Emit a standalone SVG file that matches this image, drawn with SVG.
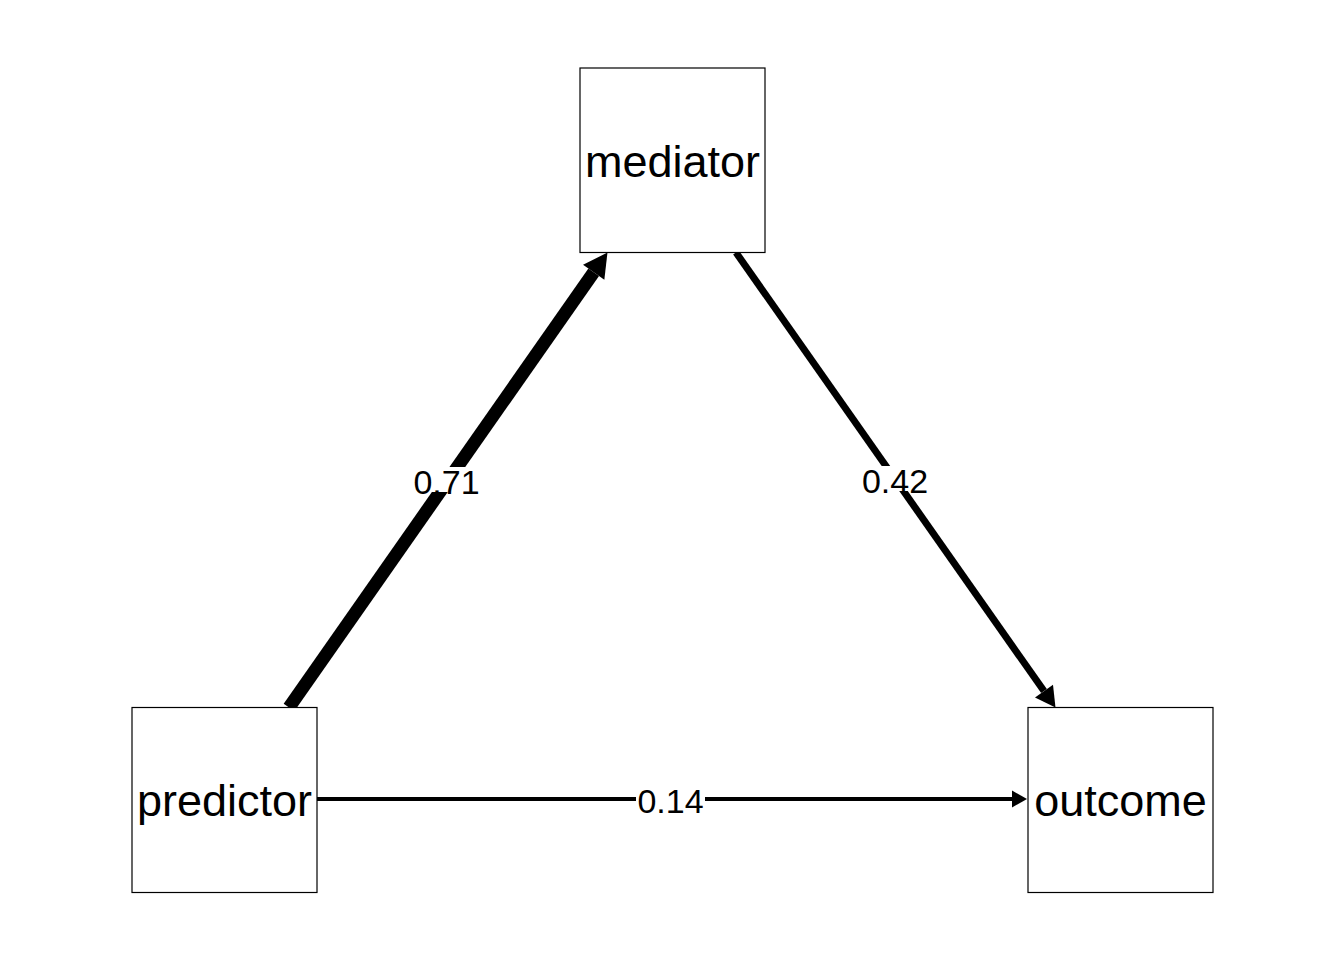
<svg xmlns="http://www.w3.org/2000/svg" width="1344" height="960" viewBox="0 0 1344 960">
<style>
.box{fill:#fff;stroke:#000;stroke-width:1.2}
.nl{font-family:"Liberation Sans",Arial,sans-serif;font-size:45px;fill:#000;text-anchor:middle}
.el{font-family:"Liberation Sans",Arial,sans-serif;font-size:34px;fill:#000;text-anchor:middle}
.edge{stroke:#000;fill:none;stroke-linecap:butt}
.bg{fill:#fff}
</style>
<defs>
<marker id="ah1" markerUnits="userSpaceOnUse" markerWidth="26" markerHeight="28" refX="0" refY="13" orient="auto" overflow="visible"><path d="M0,0 L24,13 L0,26 Z" fill="#000"/></marker>
<marker id="ah2" markerUnits="userSpaceOnUse" markerWidth="22" markerHeight="24" refX="0" refY="11" orient="auto" overflow="visible"><path d="M0,0 L20,11 L0,22 Z" fill="#000"/></marker>
<marker id="ah3" markerUnits="userSpaceOnUse" markerWidth="17" markerHeight="19" refX="0" refY="8.5" orient="auto" overflow="visible"><path d="M0,0 L15,8.5 L0,17 Z" fill="#000"/></marker>
</defs>
<rect width="1344" height="960" fill="#fff"/>
<g id="connectors">
<g id="e-pred-med">
<line class="edge" x1="289" y1="707.5" x2="593.7" y2="272.2" stroke-width="13" marker-end="url(#ah1)"/>
<rect class="bg" x="412" y="467" width="69" height="25"/>
<text class="el" x="446.5" y="494">0.71</text>
</g>
<g id="e-med-out">
<line class="edge" x1="736" y1="252.5" x2="1044" y2="691.1" stroke-width="7" marker-end="url(#ah2)"/>
<rect class="bg" x="861" y="466" width="69" height="25"/>
<text class="el" x="895" y="493">0.42</text>
</g>
<g id="e-pred-out">
<line class="edge" x1="317" y1="799" x2="1012" y2="799" stroke-width="4" marker-end="url(#ah3)"/>
<rect class="bg" x="636" y="787" width="69" height="25"/>
<text class="el" x="670.5" y="813">0.14</text>
</g>
</g>
<g id="mediator">
<rect class="box" x="580" y="68" width="185" height="184.5"/>
<text class="nl" x="672.5" y="177">mediator</text>
</g>
<g id="predictor">
<rect class="box" x="132" y="707.5" width="185" height="185"/>
<text class="nl" x="224.5" y="816">predictor</text>
</g>
<g id="outcome">
<rect class="box" x="1028" y="707.5" width="185" height="185"/>
<text class="nl" x="1120.5" y="816">outcome</text>
</g>
</svg>
